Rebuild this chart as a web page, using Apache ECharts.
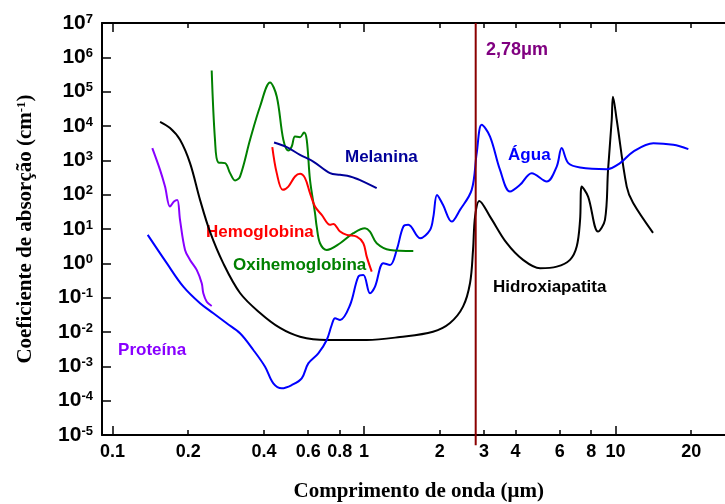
<!DOCTYPE html>
<html><head><meta charset="utf-8">
<script src="https://cdn.jsdelivr.net/npm/echarts@6/dist/echarts.min.js"></script>
<style>html,body{margin:0;padding:0;background:#fff;overflow:hidden;width:725px;height:504px}#c{width:736px;height:504px}</style>
</head><body><div id="c"></div><script>
// ---- tick labels ----
const xTicks = [0.1, 0.2, 0.4, 0.6, 0.8, 1, 2, 3, 4, 6, 8, 10, 20];
const xMajorTicks = [0.1, 1, 10];
const yExponents = [-5, -4, -3, -2, -1, 0, 1, 2, 3, 4, 5, 6, 7];
const xRange = [0.0908, 30];

// ---- data (wavelength in μm, absorption coefficient in cm^-1) ----
const aguaWl = [0.138,0.1643,0.1912,0.2228,0.2517,0.2844,0.3213,0.363,0.4041,0.4359,0.4709,0.5159,0.5652,0.6004,0.658,0.7107,0.744,0.767,0.803,0.88,0.949,0.994,1.056,1.106,1.193,1.269,1.349,1.433,1.50,1.67,1.83,1.887,1.951,2.06,2.233,2.408,2.68,2.806,2.938,3.17,3.474,3.806,4.172,4.643,5.326,5.837,6.11,6.49,7.23,9.23,10.42,11.77,14.14,16.97,19.48];
const aguaAbs = [6.73,1.01,0.209,0.0687,0.0351,0.0179,0.00917,0.00299,0.000973,0.000319,0.000229,0.000285,0.000447,0.00122,0.00239,0.00585,0.016,0.0251,0.0224,0.0612,0.409,0.459,0.134,0.209,1.01,0.90,2.46,11.7,13.2,5.4,9.4,23,98.6,50.5,16.4,36,138,1622,10840,4940,528,123,193,424,241,659,2270,828,617,553,828,1806,3170,2830,2120];

const hidroxiWl = [0.1545,0.1693,0.1855,0.2033,0.2228,0.2442,0.2751,0.3213,0.386,0.4634,0.5565,0.7107,1.025,1.39,1.88,2.198,2.475,2.64,2.713,2.764,2.873,3.17,3.69,4.29,5.01,5.84,6.59,7.01,7.23,7.34,7.78,8.52,9.08,9.34,9.66,9.77,10.11,11.08,11.74,14.1];
const hidroxiAbs = [13200,8690,3960,828,70.5,8.2,1.03,0.137,0.0358,0.0131,0.0073,0.00585,0.00585,0.00715,0.0102,0.0183,0.0547,0.268,2.46,23,65.9,23,3.93,1.26,0.72,0.80,1.26,3.07,18.4,172,88,8.4,18.4,528,15200,71000,15200,172,57.7,7.7];

const proteinaWl = [0.1439,0.1545,0.1617,0.1692,0.1755,0.1809,0.1855,0.1942,0.2033,0.2161,0.2263,0.2296,0.2369,0.2479];
const proteinaAbs = [2270,528,172,45,63,70.5,18.4,2.46,1.26,0.643,0.263,0.134,0.0764,0.0573];

const oxiWl = [0.2479,0.2555,0.2633,0.2802,0.2933,0.307,0.3213,0.3522,0.386,0.4229,0.4497,0.4777,0.5,0.5158,0.5316,0.5566,0.5773,0.5919,0.6098,0.6384,0.6484,0.6683,0.7107,0.8032,0.9067,1.009,1.056,1.123,1.269,1.57];
const oxiAbs = [415000,3960,863,828,424,258,337,3960,37000,185000,72400,3960,1930,2520,4940,4740,6460,3960,270,28.9,11.7,3.85,2.46,3.85,7.55,10.5,8.4,3.85,2.46,2.3];

const hemoWl = [0.4318,0.4497,0.475,0.5,0.5316,0.5566,0.5826,0.6098,0.6384,0.6789,0.7324,0.7549,0.8032,0.8535,0.9354,0.9936,1.025,1.073];
const hemoAbs = [2430,424,138,172,337,404,303,111,45,25.8,13.2,14.1,8.4,6.73,6.0,3.85,1.57,0.573];

const melaninaWl = [0.4387,0.4928,0.5566,0.6285,0.7324,0.8032,0.88,0.9936,1.123];
const melaninaAbs = [3300,2430,1445,923,424,378,337,241,155];

const markerWl = 2.78;
const markerAbsRange = [1e7, 5e-6];

// ---- annotations ----
const annTexts = ['Melanina', 'Água', 'Hemoglobina', 'Oxihemoglobina', 'Proteína', 'Hidroxiapatita', '2,78μm'];
const annWl    = [0.84, 3.74, 0.2354, 0.3014, 0.1052, 3.26, 3.055];
const annAbs   = [1265, 1445, 8.2, 0.90, 0.003, 0.205, 1.67e6];
const annColors = ['#000099', '#0000ff', '#ff0000', '#008000', '#8800ff', '#000000', '#800080'];

const L = Math.log10;
const pts = (wl, ab) => wl.map((w, i) => [L(w), L(ab[i])]);
const SANS = 'Liberation Sans, Arial, sans-serif';
const SERIF = 'Liberation Serif, Times New Roman, serif';

const xMin = L(xRange[0]), xMax = L(xRange[1]);
const xTickVals = xTicks.map(L);
const xMajorVals = xMajorTicks.map(L);
const fmtX = v => String(parseFloat(Math.pow(10, v).toPrecision(3)));

function xAx(pos, vals, len, showLine, showLabel) {
  return {
    type: 'value', min: xMin, max: xMax, position: pos,
    splitLine: { show: false },
    axisLine: { show: showLine, onZero: false, lineStyle: { color: '#000', width: 2 } },
    axisTick: { show: true, inside: true, length: len, customValues: vals, lineStyle: { color: '#000', width: 1.5 } },
    axisLabel: { show: showLabel, customValues: vals, formatter: fmtX, fontSize: 18, fontWeight: 'bold', color: '#000', fontFamily: SANS, margin: 8 },
    name: showLabel ? 'Comprimento de onda (μm)' : '',
    nameLocation: 'middle', nameGap: 46,
    nameTextStyle: { fontSize: 21, fontWeight: 'bold', color: '#000', fontFamily: SERIF }
  };
}

function line(name, wl, ab, color) {
  return { name, type: 'line', data: pts(wl, ab), showSymbol: false, smooth: 0.35,
    lineStyle: { color, width: 2 }, itemStyle: { color }, xAxisIndex: 0, yAxisIndex: 0 };
}

const chart = echarts.init(document.getElementById('c'), null, { renderer: 'canvas' });
chart.setOption({
  animation: false,
  backgroundColor: '#fff',
  grid: { left: 102, top: 23, right: 0.5, bottom: 69, containLabel: false, outerBoundsMode: 'none' },
  xAxis: [
    xAx('bottom', xTickVals, 5, true, true),
    xAx('bottom', xMajorVals, 9, false, false),
    xAx('top', xTickVals, 5, true, false),
    xAx('top', xMajorVals, 9, false, false)
  ],
  yAxis: {
    type: 'value', min: -5, max: 7, interval: 1,
    splitLine: { show: false },
    axisLine: { show: true, onZero: false, lineStyle: { color: '#000', width: 2 } },
    axisTick: { inside: true, length: 9, lineStyle: { color: '#000', width: 1.5 } },
    axisLabel: {
      margin: 9, color: '#000',
      formatter: v => '{b|10}{s|' + Math.round(v) + '}',
      rich: {
        b: { fontSize: 21, fontWeight: 'bold', fontFamily: SANS, color: '#000' },
        s: { fontSize: 13, fontWeight: 'bold', fontFamily: SANS, color: '#000', verticalAlign: 'top' }
      }
    },
    name: '{t|Coeficiente de absorção (cm}{u|-1}{t|)}',
    nameLocation: 'middle', nameGap: 66, nameRotate: 90,
    nameTextStyle: {
      rich: {
        t: { fontSize: 21, fontWeight: 'bold', fontFamily: SERIF, color: '#000' },
        u: { fontSize: 13, fontWeight: 'bold', fontFamily: SERIF, color: '#000', verticalAlign: 'top' }
      }
    }
  },
  series: [
    line('Hidroxiapatita', hidroxiWl, hidroxiAbs, '#000000'),
    line('Água', aguaWl, aguaAbs, '#0000ff'),
    line('Proteína', proteinaWl, proteinaAbs, '#8800ff'),
    line('Oxihemoglobina', oxiWl, oxiAbs, '#008000'),
    line('Melanina', melaninaWl, melaninaAbs, '#000099'),
    line('Hemoglobina', hemoWl, hemoAbs, '#ff0000'),
    {
      name: '2,78μm', type: 'line', clip: false, showSymbol: false,
      data: markerAbsRange.map(a => [L(markerWl), L(a)]),
      lineStyle: { color: '#8b0000', width: 2 }
    },
    {
      name: 'labels', type: 'scatter', symbolSize: 0, silent: true,
      itemStyle: { opacity: 1 },
      data: annTexts.map((t, i) => ({
        value: [L(annWl[i]), L(annAbs[i])],
        label: { show: true, position: 'right', distance: 0, formatter: t, opacity: 1,
          color: annColors[i], fontSize: i === 6 ? 18 : 17, fontWeight: 'bold', fontFamily: SANS }
      }))
    }
  ]
});
</script></body></html>
